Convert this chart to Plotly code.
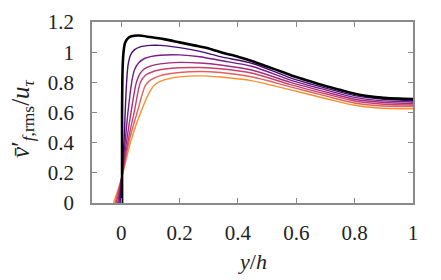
import plotly.graph_objects as go

# ---- data ----
black_x = [0.003, 0.003, 0.005, 0.008, 0.013, 0.022, 0.035, 0.06, 0.10, 0.15, 0.20, 0.25, 0.30, 0.35, 0.40, 0.45,
           0.50, 0.55, 0.60, 0.65, 0.70, 0.75, 0.80, 0.85, 0.90, 0.95, 1.00]
black_y = [0.0, 0.60, 0.90, 1.00, 1.06, 1.09, 1.105, 1.11, 1.10, 1.085, 1.065, 1.045, 1.025, 0.995, 0.97, 0.94,
           0.905, 0.87, 0.835, 0.805, 0.775, 0.75, 0.725, 0.707, 0.697, 0.692, 0.69]

tail_x = [0.45, 0.58, 0.70, 0.80, 0.90, 1.00]

l1_x = [-0.004, 0.002, 0.010, 0.014, 0.019, 0.024, 0.032, 0.045, 0.065, 0.10, 0.134, 0.20, 0.27, 0.34] + tail_x
l1_y = [0.0, 0.17, 0.417, 0.616, 0.815, 0.92, 0.98, 1.015, 1.035, 1.045, 1.045, 1.03, 1.005, 0.97,
        0.925, 0.83, 0.762, 0.712, 0.688, 0.68]

l2_x = [-0.008, 0.002, 0.014, 0.024, 0.036, 0.045, 0.06, 0.08, 0.10, 0.134, 0.20, 0.27, 0.34] + tail_x
l2_y = [0.0, 0.17, 0.417, 0.616, 0.80, 0.88, 0.93, 0.958, 0.97, 0.98, 0.982, 0.97, 0.945,
        0.905, 0.815, 0.75, 0.70, 0.677, 0.67]

l3_x = [-0.012, 0.002, 0.019, 0.035, 0.052, 0.065, 0.08, 0.10, 0.134, 0.20, 0.27, 0.34] + tail_x
l3_y = [0.0, 0.17, 0.417, 0.616, 0.80, 0.86, 0.89, 0.908, 0.922, 0.932, 0.928, 0.915,
        0.88, 0.80, 0.737, 0.688, 0.666, 0.66]

l4_x = [-0.017, 0.002, 0.024, 0.046, 0.066, 0.085, 0.11, 0.15, 0.20, 0.27, 0.34] + tail_x
l4_y = [0.0, 0.17, 0.417, 0.616, 0.80, 0.85, 0.872, 0.888, 0.897, 0.898, 0.89,
        0.86, 0.785, 0.724, 0.676, 0.655, 0.65]

l5_x = [-0.021, 0.002, 0.028, 0.057, 0.083, 0.10, 0.134, 0.20, 0.27, 0.34] + tail_x
l5_y = [0.0, 0.17, 0.417, 0.616, 0.78, 0.815, 0.845, 0.865, 0.872, 0.865,
        0.835, 0.77, 0.71, 0.663, 0.643, 0.64]

l6_x = [-0.026, 0.002, 0.034, 0.07, 0.10, 0.12, 0.15, 0.20, 0.27, 0.34] + tail_x
l6_y = [0.0, 0.17, 0.417, 0.616, 0.745, 0.792, 0.818, 0.836, 0.843, 0.835,
        0.81, 0.75, 0.693, 0.648, 0.628, 0.625]

colored = [(l6_x, l6_y, "#fb8f2e"), (l5_x, l5_y, "#e4605a"), (l4_x, l4_y, "#c8426e"),
           (l3_x, l3_y, "#a32c7e"), (l2_x, l2_y, "#7a1d88"), (l1_x, l1_y, "#4b0c7a")]

x_ticks = [0, 0.2, 0.4, 0.6, 0.8, 1]
x_ticklabels = ["0", "0.2", "0.4", "0.6", "0.8", "1"]
y_ticks = [0, 0.2, 0.4, 0.6, 0.8, 1, 1.2]
y_ticklabels = ["0", "0.2", "0.4", "0.6", "0.8", "1", "1.2"]

FONT = "Liberation Serif"
AX = "#8a8a8a"

fig = go.Figure()
for xs, ys, c in colored:
    fig.add_trace(go.Scatter(x=xs, y=ys, mode="lines",
                             line=dict(color=c, width=1.4, shape="spline", smoothing=0.8),
                             showlegend=False, hoverinfo="skip"))
fig.add_trace(go.Scatter(x=black_x, y=black_y, mode="lines",
                         line=dict(color="black", width=2.6, shape="spline", smoothing=0.8),
                         showlegend=False, hoverinfo="skip"))

axis_common = dict(showgrid=False, zeroline=False, showline=True, linecolor=AX, linewidth=1.5,
                   mirror="ticks", ticks="inside", ticklen=5, tickwidth=1, tickcolor=AX,
                   tickfont=dict(family=FONT, size=21, color="#222222"), automargin=False)

fig.update_xaxes(range=[-0.1, 1.0], tickvals=x_ticks, ticktext=x_ticklabels,
                 ticklabelstandoff=10, **axis_common)
fig.update_yaxes(range=[0, 1.2], tickvals=y_ticks, ticktext=y_ticklabels,
                 ticklabelstandoff=12, **axis_common)

fig.add_annotation(text="<i>y</i>/<i>h</i>", xref="paper", yref="paper",
                   x=0.5, y=-0.325, xanchor="center", yanchor="middle", showarrow=False,
                   font=dict(family=FONT, size=22, color="#222222"))
fig.add_annotation(text="<i>v\u0304</i>\u2032<sub><i>f</i>,rms</sub>/<i>u</i><sub><i>\u03c4</i></sub>",
                   xref="paper", yref="paper", x=-0.215, y=0.47, xanchor="center", yanchor="middle",
                   textangle=-90, showarrow=False, borderpad=0,
                   font=dict(family=FONT, size=25, color="#222222"))

# the page body adds an 8px offset; shrink the figure so the plot area lands where the reference has it
fig.update_layout(width=433, height=272, margin=dict(l=84, r=28, t=14, b=77),
                  paper_bgcolor="white", plot_bgcolor="white")

fig.write_html("out.html")
